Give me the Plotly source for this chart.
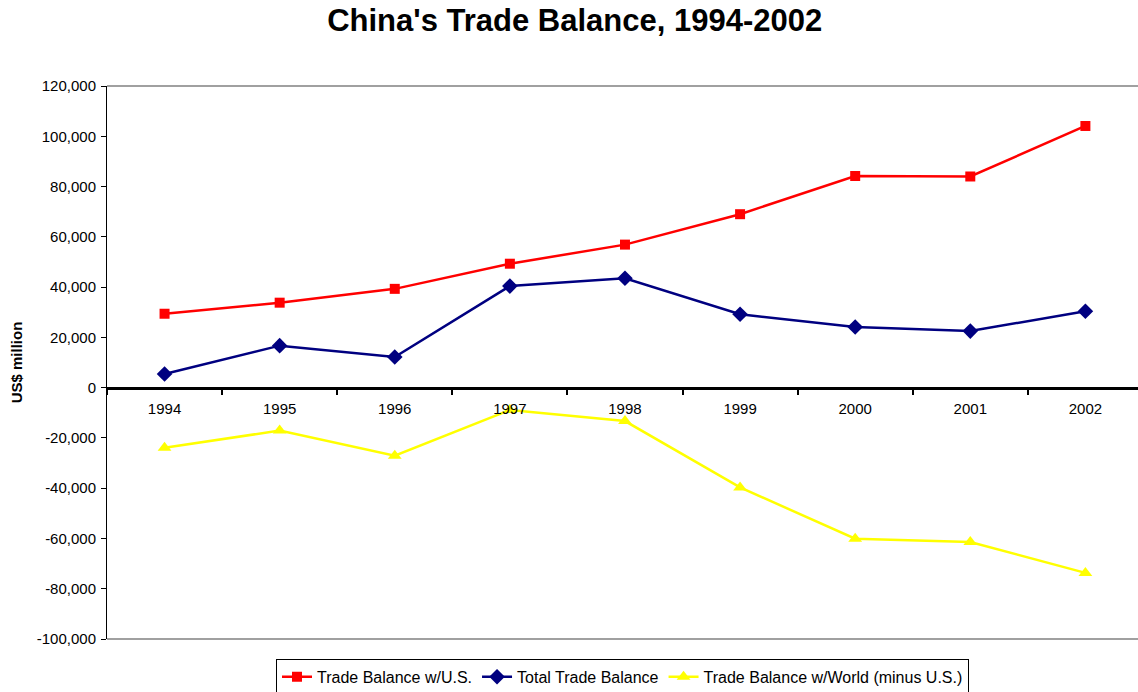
import plotly.graph_objects as go

years = ["1994", "1995", "1996", "1997", "1998", "1999", "2000", "2001", "2002"]
us_balance = [29400, 33800, 39300, 49300, 56900, 69000, 84200, 84000, 104100]
total_balance = [5400, 16700, 12200, 40400, 43500, 29200, 24100, 22500, 30400]
world_minus_us = [-23900, -17100, -27100, -8900, -13300, -39700, -60100, -61400, -73700]

y_ticks = list(range(-100000, 120001, 20000))
y_tick_text = [f"{v:,}" for v in y_ticks]
y_min, y_max = -100000, 120000

font = "Liberation Sans, Arial, sans-serif"

fig = go.Figure()
fig.add_trace(go.Scatter(x=years, y=us_balance, name="Trade Balance w/U.S.",
                         mode="lines+markers",
                         line=dict(color="#FF0000", width=2.5),
                         marker=dict(symbol="square", size=10, color="#FF0000")))
fig.add_trace(go.Scatter(x=years, y=total_balance, name="Total Trade Balance",
                         mode="lines+markers",
                         line=dict(color="#000080", width=2.5),
                         marker=dict(symbol="diamond", size=12, color="#000080")))
fig.add_trace(go.Scatter(x=years, y=world_minus_us, name="Trade Balance w/World (minus U.S.)",
                         mode="lines+markers",
                         line=dict(color="#FFFF00", width=2.5),
                         marker=dict(symbol="triangle-up", size=12, color="#FFFF00")))

zero_pos = (0 - y_min) / (y_max - y_min)

fig.update_layout(
    width=1138, height=692,
    paper_bgcolor="white", plot_bgcolor="white",
    font=dict(family=font, size=15, color="black"),
    margin=dict(l=107, r=0, t=86, b=53, autoexpand=False),
    title=dict(text="<b>China's Trade Balance, 1994-2002</b>",
               font=dict(family=font, size=31, color="black"),
               x=0.505, xanchor="center", y=0.971, yanchor="middle"),
    xaxis=dict(type="category", range=[-0.5, 8.457],
               anchor="free", position=zero_pos, automargin=False,
               showline=True, linecolor="black", linewidth=2.5,
               ticks="outside", tickson="boundaries", ticklen=6, tickwidth=2, tickcolor="black",
               ticklabelstandoff=7,
               showgrid=False, zeroline=False,
               tickfont=dict(family=font, size=15, color="black")),
    yaxis=dict(range=[y_min, y_max], tickvals=y_ticks, ticktext=y_tick_text,
               showgrid=False, zeroline=False, automargin=False,
               showline=True, linecolor="black", linewidth=1,
               ticks="outside", ticklen=5, tickcolor="black",
               ticklabelstandoff=2,
               tickfont=dict(family=font, size=15, color="black"),
               title=dict(text="<b>US$ million</b>", font=dict(family=font, size=15, color="black"),
                          standoff=10)),
    legend=dict(orientation="h", x=0.5, xanchor="center",
                yref="container", y=0.022, yanchor="middle",
                bordercolor="black", borderwidth=1, bgcolor="white",
                font=dict(family=font, size=16, color="black"),
                itemwidth=30, tracegroupgap=0),
    shapes=[dict(type="line", xref="paper", yref="paper", x0=0, x1=1, y0=1, y1=1,
                 line=dict(color="#808080", width=1.5), layer="below"),
            dict(type="line", xref="paper", yref="paper", x0=0, x1=1, y0=0, y1=0,
                 line=dict(color="#808080", width=1.5), layer="below")],
)

fig.write_html("out.html",
               config={"displayModeBar": False},
               post_script="document.body.style.margin='0';document.body.style.overflow='hidden';")
